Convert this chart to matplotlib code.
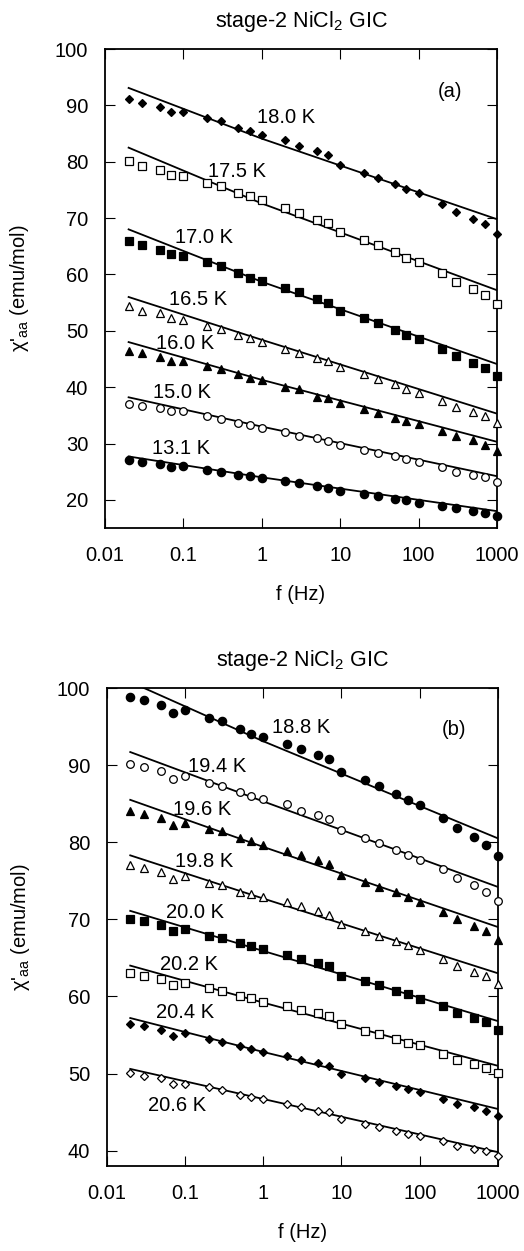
"""Frequency dependence of chi'_aa for stage-2 NiCl2 GIC, panels (a) and (b)."""

import matplotlib
matplotlib.use("Agg")
import matplotlib.pyplot as plt
from matplotlib.ticker import FixedLocator, FuncFormatter, NullLocator

plt.rcParams["font.family"] = ["Liberation Sans", "DejaVu Sans"]
plt.rcParams["mathtext.fontset"] = "custom"
plt.rcParams["mathtext.rm"] = "Liberation Sans"
plt.rcParams["mathtext.it"] = "Liberation Sans:italic"

FREQ = [0.02, 0.03, 0.05, 0.07, 0.1, 0.2, 0.3, 0.5, 0.7, 1,
        2, 3, 5, 7, 10, 20, 30, 50, 70, 100, 200, 300, 500, 700, 1000]
FIT_FREQ = [0.02, 1, 1000]

# panel (a)
TEMPS_A = ["18.0 K", "17.5 K", "17.0 K", "16.5 K", "16.0 K", "15.0 K", "13.1 K"]
CHI_180 = [91.1, 90.4, 89.8, 88.9, 88.9, 87.8, 87.2, 86.0, 85.5, 84.8, 83.8, 82.8, 81.9,
           81.2, 79.5, 78.0, 77.2, 76.0, 75.2, 74.4, 72.5, 71.1, 69.8, 68.9, 67.1]
CHI_175 = [80.2, 79.3, 78.6, 77.7, 77.4, 76.3, 75.7, 74.5, 73.9, 73.2, 71.8, 70.9, 69.7,
           69.2, 67.5, 66.1, 65.2, 63.9, 63.0, 62.2, 60.2, 58.7, 57.5, 56.3, 54.7]
CHI_170 = [65.9, 65.3, 64.4, 63.7, 63.3, 62.2, 61.5, 60.3, 59.4, 58.9, 57.6, 56.8, 55.7,
           54.9, 53.6, 52.2, 51.3, 50.2, 49.3, 48.5, 46.7, 45.5, 44.3, 43.4, 42.0]
CHI_165 = [54.4, 53.6, 53.1, 52.2, 52.0, 50.9, 50.4, 49.3, 48.7, 48.0, 46.8, 46.1, 45.1,
           44.6, 43.5, 42.3, 41.4, 40.6, 39.7, 39.0, 37.6, 36.5, 35.6, 34.8, 33.6]
CHI_160 = [46.4, 46.1, 45.3, 44.6, 44.6, 43.7, 43.2, 42.3, 41.7, 41.2, 40.1, 39.6, 38.2,
           38.0, 37.2, 36.1, 35.5, 34.6, 34.0, 33.4, 32.2, 31.3, 30.6, 29.8, 28.7]
CHI_150 = [37.1, 36.6, 36.3, 35.7, 35.7, 34.8, 34.4, 33.7, 33.3, 32.8, 32.0, 31.4, 31.0,
           30.4, 29.7, 28.8, 28.3, 27.7, 27.3, 26.8, 25.8, 25.0, 24.5, 24.0, 23.1]
CHI_131 = [27.1, 26.8, 26.4, 25.9, 26.0, 25.3, 24.9, 24.5, 24.2, 23.9, 23.3, 23.0, 22.4,
           22.1, 21.5, 21.0, 20.6, 20.2, 19.9, 19.5, 18.9, 18.5, 18.1, 17.7, 17.1]
FIT_A = [[93.1, 84.1, 69.8], [82.5, 72.6, 57.2], [68.0, 58.7, 44.1], [56.0, 48.4, 35.3],
         [48.0, 41.3, 30.3], [38.2, 33.0, 24.2], [27.7, 24.0, 18.0]]

# panel (b)
TEMPS_B = ["18.8 K", "19.4 K", "19.6 K", "19.8 K", "20.0 K", "20.2 K", "20.4 K", "20.6 K"]
CHI_188 = [98.9, 98.4, 97.8, 96.8, 97.1, 96.1, 95.7, 94.7, 94.1, 93.7, 92.8, 92.1, 91.3,
           90.8, 89.1, 88.1, 87.3, 86.3, 85.5, 84.8, 83.1, 81.9, 80.7, 79.7, 78.2]
CHI_194 = [90.1, 89.7, 89.3, 88.2, 88.6, 87.7, 87.3, 86.5, 86.0, 85.6, 84.9, 84.0, 83.5,
           83.0, 81.6, 80.5, 79.9, 79.0, 78.3, 77.7, 76.5, 75.3, 74.4, 73.6, 72.4]
CHI_196 = [84.0, 83.7, 83.2, 82.2, 82.5, 81.7, 81.4, 80.5, 80.2, 79.6, 78.9, 78.3, 77.7,
           77.2, 75.7, 74.8, 74.2, 73.5, 72.9, 72.3, 71.0, 70.0, 69.1, 68.5, 67.3]
CHI_198 = [77.0, 76.6, 76.2, 75.2, 75.6, 74.7, 74.4, 73.6, 73.3, 72.9, 72.2, 71.7, 71.1,
           70.6, 69.4, 68.5, 67.8, 67.2, 66.7, 66.0, 64.9, 64.0, 63.2, 62.6, 61.6]
CHI_200 = [70.0, 69.8, 69.3, 68.5, 68.7, 67.9, 67.6, 66.9, 66.5, 66.1, 65.4, 64.8, 64.4,
           63.9, 62.7, 62.0, 61.5, 60.7, 60.3, 59.7, 58.7, 57.9, 57.2, 56.7, 55.7]
CHI_202 = [63.1, 62.7, 62.3, 61.5, 61.7, 61.1, 60.7, 60.1, 59.8, 59.3, 58.8, 58.2, 57.8,
           57.4, 56.4, 55.5, 55.1, 54.5, 54.0, 53.7, 52.5, 51.8, 51.2, 50.7, 50.1]
CHI_204 = [56.4, 56.2, 55.7, 54.9, 55.2, 54.5, 54.1, 53.6, 53.2, 52.8, 52.3, 51.8, 51.4,
           51.0, 50.0, 49.4, 48.9, 48.4, 48.0, 47.6, 46.7, 46.1, 45.6, 45.1, 44.5]
CHI_206 = [50.1, 49.7, 49.4, 48.6, 48.7, 48.2, 47.9, 47.2, 47.0, 46.7, 46.1, 45.7, 45.2,
           45.0, 44.1, 43.5, 43.1, 42.6, 42.2, 41.9, 41.2, 40.6, 40.2, 39.9, 39.3]
FIT_B = [[100.8, 93.1, 80.5], [91.7, 85.3, 74.2], [85.5, 79.4, 69.0], [78.3, 72.7, 63.0],
         [71.1, 65.9, 56.8], [64.0, 59.2, 51.0], [57.2, 52.8, 45.4], [50.6, 46.7, 39.8]]

FS = 14.5
TITLE_FS = 15.5


def draw_panel(ax, temps, series, fits, markers, label_pos, tag, tag_pos, ylim, yticks):
    for temp, chi, fit, (mk, filled), (lx, ly) in zip(temps, series, fits, markers, label_pos):
        ax.plot(FIT_FREQ, fit, color="black", lw=1.3, zorder=2)
        ax.plot(FREQ, chi, ls="none", marker=mk[0], ms=mk[1], mec="black", mew=0.9,
                mfc="black" if filled else "white", clip_on=False, zorder=3)
        ax.text(lx, ly, temp, fontsize=FS, ha="left", va="center")
    ax.text(tag_pos[0], tag_pos[1], tag, fontsize=FS, ha="center", va="center")

    ax.set_xscale("log")
    ax.set_xlim(0.01, 1000)
    ax.set_ylim(*ylim)
    ax.xaxis.set_major_locator(FixedLocator([0.01, 0.1, 1, 10, 100, 1000]))
    ax.xaxis.set_minor_locator(NullLocator())
    ax.xaxis.set_major_formatter(FuncFormatter(lambda v, _: f"{v:g}"))
    ax.yaxis.set_major_locator(FixedLocator(yticks))
    ax.tick_params(which="both", direction="in", top=True, right=True, length=7,
                   width=0.8, labelsize=FS)
    ax.tick_params(axis="x", pad=13)
    ax.tick_params(axis="y", pad=12)
    for spine in ax.spines.values():
        spine.set_linewidth(1.3)

    ax.set_title(r"stage-2 NiCl$_2$ GIC", fontsize=TITLE_FS, pad=16)
    ax.set_xlabel("f (Hz)", fontsize=FS, labelpad=14)
    ax.set_ylabel(r"χ'$_{\mathrm{aa}}$ (emu/mol)", fontsize=FS)
    ax.yaxis.set_label_coords(-0.19, 0.5)


def main() -> None:
    fig = plt.figure(figsize=(5.24, 12.51), dpi=100)
    ax_a = fig.add_axes([0.2004, 0.5779, 0.7481, 0.3829])
    ax_b = fig.add_axes([0.2036, 0.0679, 0.7468, 0.3821])

    markers_a = [(("D", 4.2), True), (("s", 5.5), False), (("s", 6.0), True),
                 (("^", 6.0), False), (("^", 6.0), True), (("o", 5.5), False),
                 (("o", 6.0), True)]
    labels_a = [(0.87, 87.9), (0.206, 78.3), (0.078, 66.6), (0.065, 55.5),
                (0.045, 47.8), (0.041, 39.1), (0.040, 29.2)]
    draw_panel(ax_a, TEMPS_A, [CHI_180, CHI_175, CHI_170, CHI_165, CHI_160, CHI_150, CHI_131],
               FIT_A, markers_a, labels_a, "(a)", (251, 92.4), (15, 100),
               [20, 30, 40, 50, 60, 70, 80, 90, 100])

    markers_b = [(("o", 6.0), True), (("o", 5.5), False), (("^", 6.0), True),
                 (("^", 6.0), False), (("s", 6.0), True), (("s", 5.5), False),
                 (("D", 4.2), True), (("D", 4.2), False)]
    labels_b = [(1.29, 94.9), (0.109, 89.8), (0.070, 84.2), (0.075, 77.5),
                (0.057, 70.9), (0.048, 64.2), (0.043, 57.9), (0.034, 45.9)]
    draw_panel(ax_b, TEMPS_B, [CHI_188, CHI_194, CHI_196, CHI_198, CHI_200, CHI_202, CHI_204,
                               CHI_206],
               FIT_B, markers_b, labels_b, "(b)", (270, 94.6), (38, 100),
               [40, 50, 60, 70, 80, 90, 100])

    fig.savefig("out.png", dpi=100)
    plt.close(fig)


if __name__ == "__main__":
    main()
